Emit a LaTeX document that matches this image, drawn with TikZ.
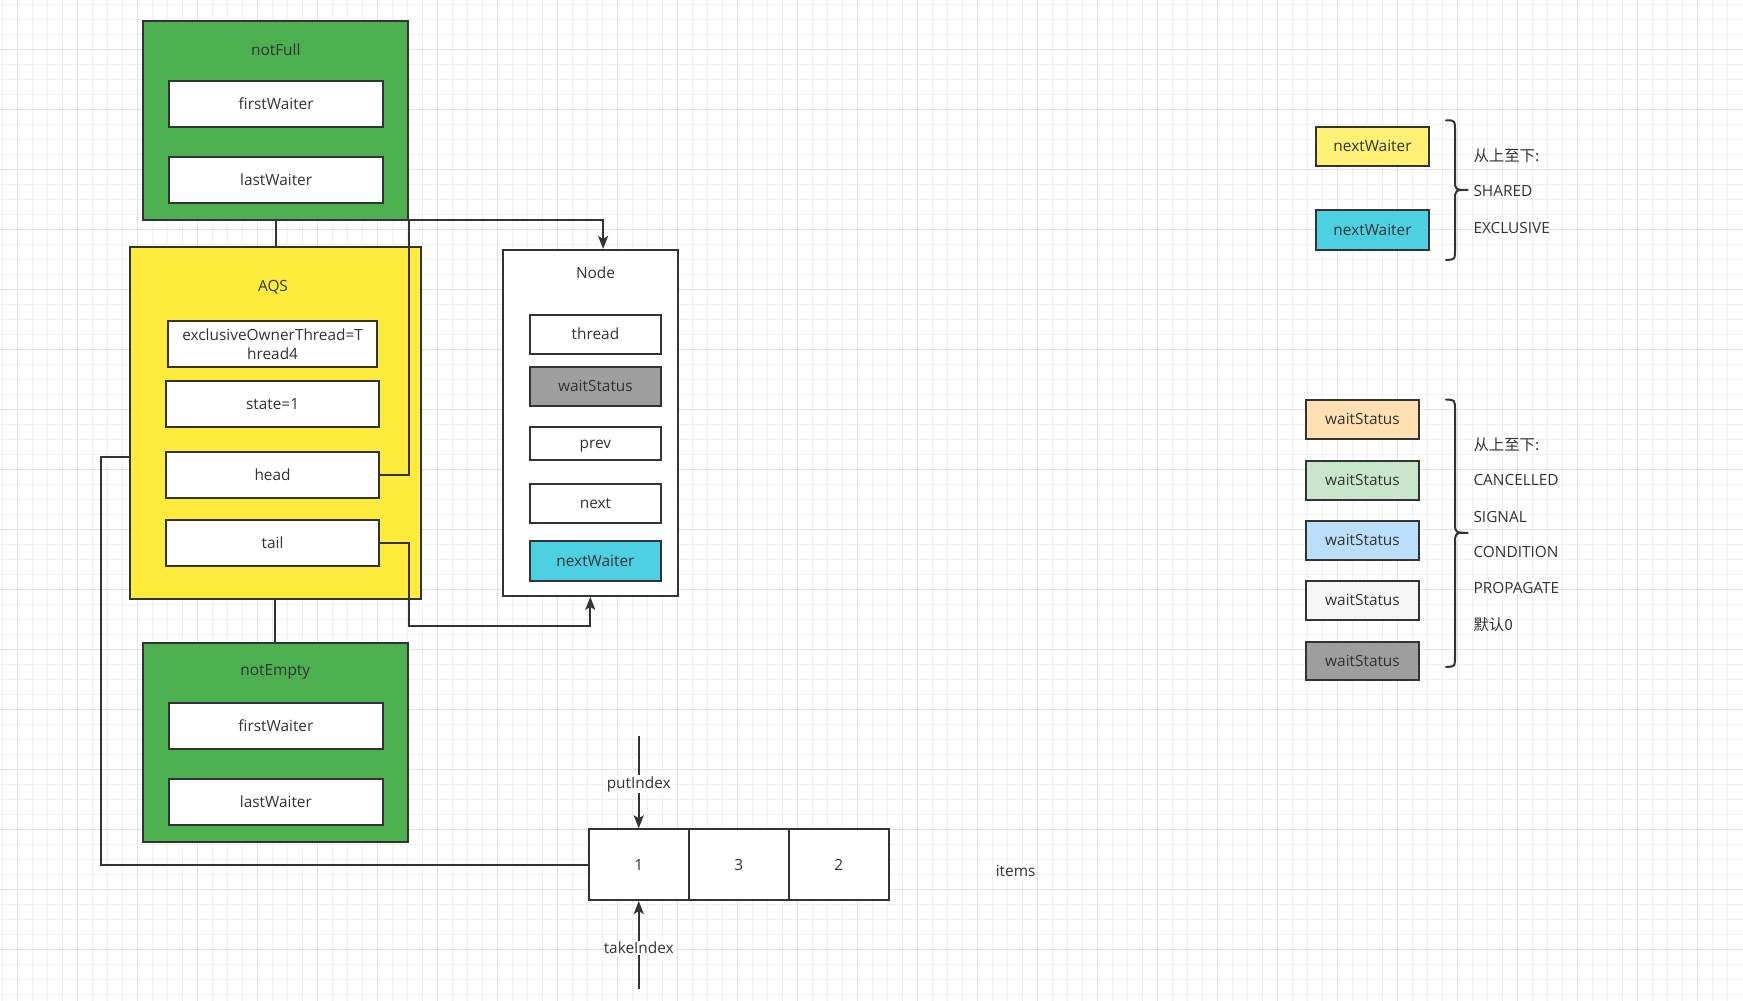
\documentclass[tikz,border=0pt]{standalone}
\usepackage{fontspec}
\setmainfont{Open Sans}
\newfontfamily\cjk{Noto Sans CJK SC}
\usetikzlibrary{arrows.meta,calc}
\definecolor{txt}{HTML}{333333}
\definecolor{lc}{HTML}{333333}
\definecolor{gmin}{HTML}{F0F0F0}
\definecolor{gmaj}{HTML}{E2E2E2}
\definecolor{grn}{HTML}{4CAF50}
\definecolor{ylw}{HTML}{FFEB3B}
\definecolor{ylwl}{HTML}{FFF176}
\definecolor{cyn}{HTML}{4DD0E1}
\definecolor{gry}{HTML}{9E9E9E}
\definecolor{peach}{HTML}{FFE0B2}
\definecolor{lgrn}{HTML}{C8E6C9}
\definecolor{lblu}{HTML}{BBDEFB}
\definecolor{lgry}{HTML}{F5F5F5}
\newcommand\fs{\fontsize{15.4}{17}\selectfont}
\begin{document}
\begin{tikzpicture}[x=1pt,y=-1pt,
  every node/.style={font=\fs,text=txt,inner sep=0pt},
  cont/.style={draw=lc,line width=2pt},
  plainbox/.style={draw=lc,line width=2pt,fill=white},
  fbox/.style={plainbox,text height=11.5pt,text depth=0.5pt},
  sz/.style 2 args={minimum width=#1pt,minimum height=#2pt},
  conn/.style={draw=lc,line width=1.9pt},
  arr/.style={conn,-{Stealth[length=13pt,width=10pt,inset=3pt]}},
  lbl/.style={fill=white,inner sep=1pt},
  brace/.style={draw=lc,line width=2pt,line cap=round}]
\useasboundingbox (0,0) rectangle (1743,1001);
\fill[white] (0,0) rectangle (1743,1001);
% grid
\foreach \i in {0,...,115} \draw[gmin,line width=1pt] ({2.3+15*\i},0) -- ({2.3+15*\i},1001);
\foreach \j in {0,...,66} \draw[gmin,line width=1pt] (0,{4.3+15*\j}) -- (1743,{4.3+15*\j});
\foreach \i in {0,...,28} \draw[gmaj,line width=1pt] ({17.3+60*\i},0) -- ({17.3+60*\i},1001);
\foreach \j in {0,...,15} \draw[gmaj,line width=1pt] (0,{49.3+60*\j}) -- (1743,{49.3+60*\j});

% notFull
\node[cont,fill=grn,sz={264.9}{198.8}] (notFull) at (275.75,120.4) {};
\node (notFullT) at (275.75,49.4) {notFull};
\node[fbox,sz={214.3}{46.2}] (nf1) at (276.15,103.8) {firstWaiter};
\node[fbox,sz={214.3}{46.2}] (nf2) at (276.15,180.1) {lastWaiter};

% AQS
\node[cont,fill=ylw,sz={291}{352}] (AQS) at (275.3,422.7) {};
\node (AQST) at (273,287.5) {AQS};
\node[plainbox,sz={209.6}{46.3},align=center,font={\fontsize{15.4}{18.8}\selectfont}] (eot) at (272.6,343.85) {exclusiveOwnerThread=T\\hread4};
\node[fbox,sz={213.5}{45.9}] (state) at (272.55,403.75) {state=1};
\node[fbox,sz={213.5}{45.9}] (head) at (272.55,474.9) {head};
\node[fbox,sz={213.5}{45.9}] (tail) at (272.55,542.9) {tail};

% Node
\node[cont,fill=white,sz={175.2}{346}] (Node) at (590.3,422.9) {};
\node (NodeT) at (595.5,273.2) {Node};
\node[fbox,sz={131.7}{39.1}] (nthread) at (595.45,334.35) {thread};
\node[fbox,fill=gry,sz={131.7}{38.8}] (nws) at (595.45,386.3) {waitStatus};
\node[fbox,sz={131.7}{33.2}] (nprev) at (595.45,443.3) {prev};
\node[fbox,sz={131.7}{39.1}] (nnext) at (595.45,503.15) {next};
\node[fbox,fill=cyn,sz={131.7}{39.6}] (nnw) at (595.45,561.1) {nextWaiter};

% notEmpty
\node[cont,fill=grn,sz={265.6}{199}] (notEmpty) at (275.3,742.8) {};
\node (notEmptyT) at (275.3,672.3) {notEmpty};
\node[fbox,sz={214.3}{46.6}] (ne1) at (275.9,726) {firstWaiter};
\node[fbox,sz={214.3}{46.3}] (ne2) at (275.9,802.15) {lastWaiter};

% array
\node[fbox,sz={100}{70.7}] (c1) at (638.75,864.65) {1};
\node[fbox,sz={100}{70.7}] (c2) at (738.75,864.65) {3};
\node[fbox,sz={100}{70.7}] (c3) at (838.75,864.65) {2};
\node (items) at (1015.6,870.7) {items};

% connectors
\draw[conn] (notFull.south) -- (notFull.south |- AQS.north);
\draw[conn] (AQS.south) -- (AQS.south |- notEmpty.north);
\coordinate (hc1) at (409,219.8);
\draw[arr] (head.east) -| (hc1) -| ([xshift=12.8pt]Node.north);
\coordinate (tc1) at (409,626);
\draw[arr] (tail.east) -| (tc1) -| (Node.south);
\coordinate (lc1) at (100.6,864.65);
\draw[conn] ([yshift=-34pt]AQS.west) -| (lc1) -- (c1.west);
\coordinate (pi) at (638.75,736);
\draw[arr] (pi) -- (c1.north) node[lbl,pos=0.52] (putI) {putIndex};
\coordinate (ti) at (638.75,989.3);
\draw[arr] (ti) -- (c1.south) node[lbl,pos=0.47] (takeI) {takeIndex};

% legend 1
\node[fbox,fill=ylwl,sz={113.6}{39.6}] (ly) at (1372.5,146.4) {nextWaiter};
\node[fbox,fill=cyn,sz={113.6}{39.6}] (lcy) at (1372.5,229.7) {nextWaiter};
\draw[brace] (1446,120.3) .. controls (1455,120.3) .. (1455,132) -- (1455,180) .. controls (1455,189.9) .. (1468.3,189.9)
  .. controls (1455,189.9) .. (1455,200) -- (1455,248) .. controls (1455,259.8) .. (1446,259.8);
\node[anchor=west] (t11) at (1473.3,156.2) {\cjk 从上至下:};
\node[anchor=west] (t12) at (1473.3,191.4) {SHARED};
\node[anchor=west] (t13) at (1473.3,227.6) {EXCLUSIVE};

% legend 2
\node[fbox,fill=peach,sz={113.6}{38.9}] (w1) at (1362.5,419.45) {waitStatus};
\node[fbox,fill=lgrn,sz={113.6}{39.2}] (w2) at (1362.5,480.3) {waitStatus};
\node[fbox,fill=lblu,sz={113.6}{39.3}] (w3) at (1362.5,540.25) {waitStatus};
\node[fbox,fill=lgry,sz={113.6}{38.8}] (w4) at (1362.5,600.4) {waitStatus};
\node[fbox,fill=gry,sz={113.6}{38.6}] (w5) at (1362.5,660.85) {waitStatus};
\draw[brace] (1446,399.7) .. controls (1455,399.7) .. (1455,411) -- (1455,521) .. controls (1455,532.8) .. (1468.3,532.8)
  .. controls (1455,532.8) .. (1455,544) -- (1455,655) .. controls (1455,666.8) .. (1446,666.8);
\node[anchor=west] (t21) at (1473.3,444.8) {\cjk 从上至下:};
\node[anchor=west] (t22) at (1473.3,480.3) {CANCELLED};
\node[anchor=west] (t23) at (1473.3,516.6) {SIGNAL};
\node[anchor=west] (t24) at (1473.3,552.1) {CONDITION};
\node[anchor=west] (t25) at (1473.3,588.3) {PROPAGATE};
\node[anchor=west] (t26) at (1473.3,624.2) {\cjk 默认0};
\end{tikzpicture}
\end{document}
